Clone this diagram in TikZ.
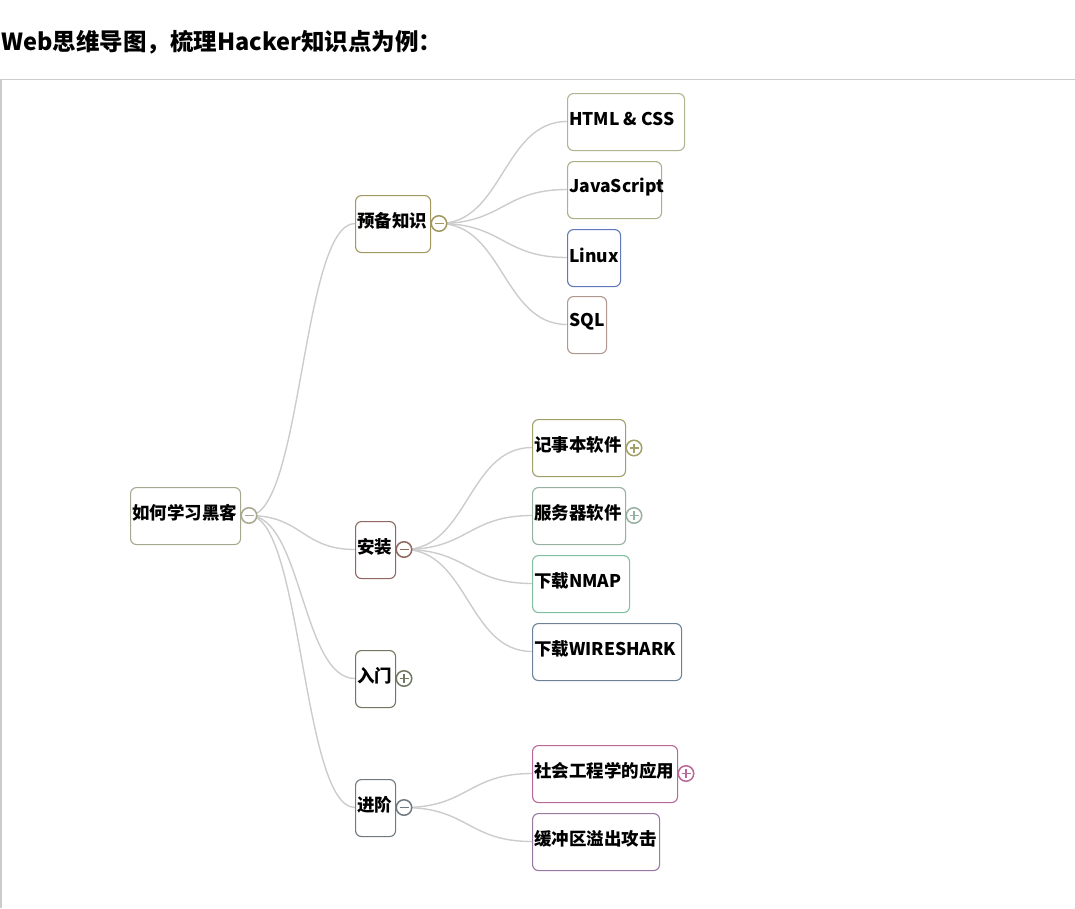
\documentclass[tikz,border=0pt]{standalone}
\usepackage{fontspec}
\setmainfont{Noto Sans CJK SC}
\begin{document}
\begin{tikzpicture}[x=1pt,y=-1pt,
  box/.style={draw, rounded corners=6pt, line width=1.1pt, fill=white, minimum height=57pt, inner sep=0pt, anchor=north west},
  txt/.style={inner sep=0pt, anchor=west, font=\fontsize{17.5}{20}\selectfont\bfseries},
  tog/.style={circle, draw, line width=1.5pt, fill=white, minimum size=15.5pt, inner sep=0pt},
  conn/.style={draw=black!20, line width=1.4pt},
  frame/.style={draw=black!20, line width=1.2pt}]
\useasboundingbox (0,0) rectangle (1075,908);
\definecolor{cRoot}{HTML}{A8A890}
\definecolor{cA}{HTML}{A09860}
\definecolor{cA1}{HTML}{B0B490}
\definecolor{cA2}{HTML}{ACB088}
\definecolor{cA3}{HTML}{6078B8}
\definecolor{cA4}{HTML}{B09890}
\definecolor{cB}{HTML}{906860}
\definecolor{cB1}{HTML}{A0A068}
\definecolor{cB2}{HTML}{98B0A0}
\definecolor{cB3}{HTML}{80C0A0}
\definecolor{cB4}{HTML}{708098}
\definecolor{cC}{HTML}{707860}
\definecolor{cD}{HTML}{707880}
\definecolor{cD1}{HTML}{B86898}
\definecolor{cD2}{HTML}{9878A0}
% title and frame
\node[inner sep=0pt, anchor=west, font=\fontsize{23.5}{27}\selectfont\bfseries] (title) at (1,42) {Web思维导图，梳理Hacker知识点为例：};
\coordinate (fa) at (1,79.5);
\coordinate (fb) at (1075,79.5);
\coordinate (fc) at (1,908);
\draw[frame] (fb) -- (fa) -- (fc);
% boxes
\newcommand\mmbox[6]{%
  \node[box, draw=#5, minimum width=#4pt] (#1) at (#2,#3) {};%
  \node[txt] (#1t) at ([xshift=2pt,yshift=3pt]#1.west) {#6};}
% connectors first (drawn beneath)
\coordinate (tR) at (249,515.5);
\coordinate (tA) at (439,223.5);
\coordinate (tB) at (404,549.5);
\coordinate (tC) at (404,678.5);
\coordinate (tD) at (404,807.5);
\coordinate (wA) at (355,223.5);
\coordinate (wB) at (355,549.5);
\coordinate (wC) at (355,678.5);
\coordinate (wD) at (355,807.5);
\coordinate (wA1) at (567,121.5);
\coordinate (wA2) at (567,189.5);
\coordinate (wA3) at (567,257.5);
\coordinate (wA4) at (567,324.5);
\coordinate (wB1) at (532,447.5);
\coordinate (wB2) at (532,515.5);
\coordinate (wB3) at (532,583.5);
\coordinate (wB4) at (532,651.5);
\coordinate (wD1) at (532,773.5);
\coordinate (wD2) at (532,841.5);
\foreach \c in {wA,wB,wC,wD}
  \draw[conn] (tR) .. controls +(53,0) and +(-53,0) .. (\c);
\foreach \c in {wA1,wA2,wA3,wA4}
  \draw[conn] (tA) .. controls +(64,0) and +(-64,0) .. (\c);
\foreach \c in {wB1,wB2,wB3,wB4}
  \draw[conn] (tB) .. controls +(64,0) and +(-64,0) .. (\c);
\foreach \c in {wD1,wD2}
  \draw[conn] (tD) .. controls +(64,0) and +(-64,0) .. (\c);
% nodes
\mmbox{R}{130}{487}{110}{cRoot}{如何学习黑客}
\mmbox{A}{355}{195}{75}{cA}{预备知识}
\mmbox{A1}{567}{93}{117}{cA1}{HTML \& CSS}
\mmbox{A2}{567}{161}{94}{cA2}{JavaScript}
\mmbox{A3}{567}{229}{53}{cA3}{Linux}
\mmbox{A4}{567}{296}{39}{cA4}{SQL}
\mmbox{B}{355}{521}{40}{cB}{安装}
\mmbox{B1}{532}{419}{93}{cB1}{记事本软件}
\mmbox{B2}{532}{487}{93}{cB2}{服务器软件}
\mmbox{B3}{532}{555}{97}{cB3}{下载NMAP}
\mmbox{B4}{532}{623}{149}{cB4}{下载WIRESHARK}
\mmbox{C}{355}{650}{40}{cC}{入门}
\mmbox{D}{355}{779}{40}{cD}{进阶}
\mmbox{D1}{532}{745}{145}{cD1}{社会工程学的应用}
\mmbox{D2}{532}{813}{127}{cD2}{缓冲区溢出攻击}
% toggles
\newcommand\mmminus[3]{%
  \node[tog, draw=#3] (#1) at (#2) {};%
  \draw[#3, line width=1.5pt] ([xshift=-4.5pt]#1.center) -- ([xshift=4.5pt]#1.center);}
\newcommand\mmplus[3]{%
  \node[tog, draw=#3] (#1) at (#2) {};%
  \draw[#3, line width=1.5pt] ([xshift=-4.5pt]#1.center) -- ([xshift=4.5pt]#1.center);%
  \draw[#3, line width=1.5pt] ([yshift=-4.5pt]#1.center) -- ([yshift=4.5pt]#1.center);}
\mmminus{TR}{tR}{cRoot}
\mmminus{TA}{tA}{cA}
\mmminus{TB}{tB}{cB}
\mmplus{TC}{tC}{cC}
\mmminus{TD}{tD}{cD}
\mmplus{TB1}{634,448}{cB1}
\mmplus{TB2}{634,515.5}{cB2}
\mmplus{TD1}{686,773.5}{cD1}
\end{tikzpicture}
\end{document}
